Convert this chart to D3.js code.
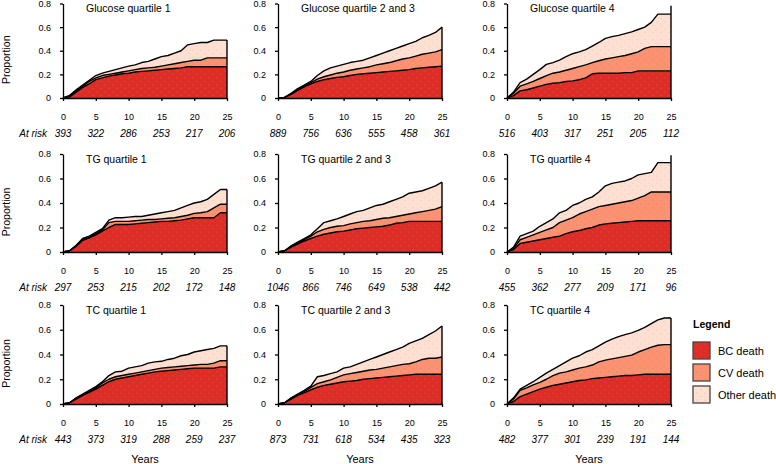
<!DOCTYPE html>
<html><head><meta charset="utf-8">
<script src="https://cdn.jsdelivr.net/npm/d3@7"></script>
<style>body{margin:0;background:#fff}svg{display:block;font-family:"Liberation Sans",Arial,Helvetica,sans-serif}</style>
</head><body><svg id="c" width="776" height="464"></svg>
<script>
// ---------- data ----------
const years = [0,1,2,3,4,5,6,7,8,9,10,11,12,13,14,15,16,17,18,19,20,21,22,23,24,25];
const panelTitles = ["Glucose quartile 1","Glucose quartile 2 and 3","Glucose quartile 4",
  "TG quartile 1","TG quartile 2 and 3","TG quartile 4",
  "TC quartile 1","TC quartile 2 and 3","TC quartile 4"];
const xTicks = [0,5,10,15,20,25];
const yTicks = [0,0.2,0.4,0.6,0.8];
const yTickLabels = ["0","0.2","0.4","0.6","0.8"];
const atRisk = [
  [393,322,286,253,217,206],[889,756,636,555,458,361],[516,403,317,251,205,112],
  [297,253,215,202,172,148],[1046,866,746,649,538,442],[455,362,277,209,171,96],
  [443,373,319,288,259,237],[873,731,618,534,435,323],[482,377,301,239,191,144]];
const causes = ["BC death","CV death","Other death"];
const causeColors = ["#de2d26","#fc9272","#fee0d2"];
// cumulative incidence: BC only
const bcCum = [
  [0,0.01,0.05,0.09,0.12,0.155,0.17,0.185,0.195,0.205,0.21,0.22,0.225,0.23,0.235,0.24,0.245,0.25,0.255,0.265,0.265,0.265,0.265,0.265,0.265,0.265],
  [0,0.005,0.03,0.065,0.095,0.12,0.14,0.155,0.165,0.175,0.18,0.19,0.2,0.205,0.21,0.215,0.22,0.225,0.23,0.235,0.24,0.25,0.255,0.26,0.265,0.27],
  [0,0.02,0.06,0.07,0.085,0.1,0.115,0.125,0.13,0.14,0.145,0.155,0.17,0.205,0.21,0.21,0.21,0.21,0.215,0.215,0.23,0.23,0.23,0.23,0.23,0.23],
  [0,0.01,0.045,0.095,0.115,0.14,0.17,0.2,0.225,0.225,0.225,0.23,0.235,0.24,0.245,0.25,0.25,0.255,0.26,0.27,0.28,0.28,0.28,0.28,0.32,0.32],
  [0,0.01,0.04,0.065,0.09,0.11,0.13,0.145,0.155,0.165,0.17,0.18,0.19,0.195,0.2,0.205,0.21,0.22,0.235,0.24,0.25,0.25,0.25,0.25,0.25,0.25],
  [0,0.02,0.07,0.08,0.09,0.1,0.11,0.12,0.13,0.15,0.165,0.175,0.19,0.2,0.22,0.23,0.235,0.24,0.245,0.25,0.255,0.255,0.255,0.255,0.255,0.255],
  [0,0.01,0.04,0.07,0.095,0.12,0.15,0.18,0.2,0.21,0.22,0.23,0.24,0.25,0.26,0.265,0.27,0.275,0.28,0.285,0.29,0.29,0.29,0.29,0.3,0.3],
  [0,0.01,0.04,0.07,0.09,0.115,0.135,0.15,0.16,0.17,0.18,0.185,0.19,0.2,0.205,0.21,0.215,0.22,0.225,0.23,0.235,0.24,0.24,0.24,0.24,0.24],
  [0,0.02,0.06,0.08,0.1,0.12,0.135,0.15,0.16,0.17,0.18,0.19,0.195,0.205,0.21,0.215,0.22,0.225,0.23,0.23,0.235,0.24,0.24,0.24,0.24,0.24]];
// cumulative incidence: BC + CV
const bcCvCum = [
  [0,0.02,0.06,0.1,0.14,0.17,0.19,0.2,0.21,0.22,0.23,0.24,0.25,0.255,0.26,0.27,0.28,0.29,0.3,0.31,0.32,0.32,0.34,0.34,0.34,0.34],
  [0,0.005,0.035,0.07,0.1,0.13,0.16,0.18,0.195,0.21,0.22,0.235,0.245,0.255,0.265,0.28,0.29,0.3,0.315,0.33,0.34,0.355,0.37,0.38,0.39,0.41],
  [0,0.04,0.1,0.12,0.14,0.165,0.19,0.21,0.22,0.235,0.25,0.265,0.28,0.3,0.315,0.33,0.34,0.35,0.36,0.375,0.39,0.42,0.435,0.435,0.435,0.435],
  [0,0.01,0.05,0.1,0.12,0.15,0.18,0.24,0.25,0.25,0.25,0.255,0.26,0.265,0.265,0.27,0.275,0.28,0.29,0.3,0.315,0.32,0.33,0.36,0.39,0.39],
  [0,0.01,0.045,0.075,0.1,0.13,0.165,0.185,0.2,0.21,0.215,0.23,0.24,0.25,0.255,0.265,0.275,0.28,0.29,0.3,0.31,0.32,0.33,0.34,0.35,0.37],
  [0,0.03,0.1,0.12,0.14,0.16,0.18,0.2,0.24,0.26,0.28,0.31,0.33,0.35,0.37,0.38,0.39,0.4,0.41,0.42,0.44,0.46,0.49,0.49,0.49,0.49],
  [0,0.01,0.045,0.075,0.1,0.13,0.17,0.2,0.22,0.23,0.24,0.25,0.26,0.27,0.28,0.29,0.295,0.3,0.305,0.31,0.315,0.32,0.32,0.33,0.35,0.35],
  [0,0.01,0.045,0.075,0.1,0.135,0.165,0.18,0.195,0.215,0.235,0.245,0.255,0.265,0.275,0.28,0.29,0.3,0.31,0.32,0.325,0.34,0.36,0.37,0.37,0.38],
  [0,0.04,0.11,0.13,0.155,0.175,0.2,0.23,0.25,0.26,0.275,0.29,0.3,0.315,0.34,0.355,0.365,0.375,0.385,0.395,0.42,0.44,0.46,0.475,0.48,0.48]];
// cumulative incidence: all causes
const allCum = [
  [0,0.02,0.07,0.11,0.15,0.19,0.21,0.225,0.24,0.255,0.27,0.28,0.3,0.31,0.33,0.35,0.36,0.38,0.4,0.45,0.46,0.47,0.47,0.49,0.49,0.49],
  [0,0.005,0.04,0.08,0.11,0.14,0.19,0.23,0.255,0.27,0.285,0.3,0.31,0.32,0.34,0.36,0.38,0.4,0.42,0.44,0.46,0.48,0.51,0.53,0.555,0.6],
  [0,0.05,0.13,0.16,0.2,0.24,0.285,0.3,0.32,0.35,0.375,0.39,0.41,0.44,0.47,0.505,0.52,0.53,0.545,0.56,0.58,0.6,0.64,0.71,0.71,0.71],
  [0,0.01,0.055,0.11,0.13,0.16,0.19,0.26,0.28,0.28,0.285,0.29,0.29,0.3,0.31,0.32,0.33,0.34,0.36,0.38,0.4,0.41,0.43,0.47,0.51,0.51],
  [0,0.01,0.05,0.08,0.11,0.14,0.19,0.24,0.255,0.27,0.29,0.31,0.33,0.34,0.36,0.38,0.39,0.41,0.43,0.45,0.48,0.49,0.5,0.52,0.54,0.57],
  [0,0.04,0.13,0.15,0.17,0.21,0.24,0.27,0.32,0.34,0.38,0.4,0.43,0.45,0.49,0.54,0.56,0.57,0.58,0.6,0.63,0.64,0.65,0.73,0.73,0.73],
  [0,0.01,0.05,0.08,0.11,0.14,0.18,0.23,0.26,0.265,0.29,0.3,0.31,0.33,0.34,0.345,0.36,0.37,0.39,0.4,0.42,0.43,0.44,0.45,0.47,0.47],
  [0,0.01,0.05,0.08,0.11,0.145,0.22,0.23,0.245,0.26,0.29,0.3,0.32,0.34,0.36,0.38,0.4,0.42,0.44,0.46,0.49,0.51,0.53,0.56,0.59,0.63],
  [0,0.05,0.12,0.15,0.18,0.215,0.25,0.28,0.31,0.34,0.37,0.39,0.42,0.44,0.47,0.5,0.525,0.545,0.56,0.575,0.595,0.62,0.65,0.68,0.695,0.695]];
// value reached by the all-cause curve in its final jump at year 25
const endTop = [0.49,0.6,0.78,0.51,0.57,0.79,0.47,0.63,0.695];

// ---------- layout ----------
const colX = [63, 278, 507];
const plotW = 164;
const rowTop = [3.5, 154, 305];
const rowBot = [98, 252, 404];
const FONT = '"Liberation Sans",Arial,Helvetica,sans-serif';

const svg = d3.select("#c");
const defs = svg.append("defs");
const pat = defs.append("pattern").attr("id","stip").attr("patternUnits","userSpaceOnUse")
  .attr("width",8).attr("height",7);
pat.append("circle").attr("cx",1).attr("cy",1).attr("r",0.5).attr("fill","#9a9070");
pat.append("circle").attr("cx",5).attr("cy",4.5).attr("r",0.5).attr("fill","#9a9070");

panelTitles.forEach((title, i) => {
  const r = Math.floor(i/3), c = i % 3;
  const x = d3.scaleLinear().domain([0,25]).range([colX[c], colX[c]+plotW]);
  const y = d3.scaleLinear().domain([0,0.8]).range([rowBot[r], rowTop[r]]);
  const g = svg.append("g");
  const zero = years.map(() => 0);
  const bounds = [zero, bcCum[i], bcCvCum[i], allCum[i]];

  // bands
  for (let k = 0; k < 3; k++) {
    const lo = bounds[k], hi = bounds[k+1];
    const area = d3.area().x((d,j)=>x(years[j])).y0((d,j)=>y(lo[j])).y1((d,j)=>y(hi[j]));
    g.append("path").attr("d", area(years)).attr("fill", causeColors[k]);
    g.append("path").attr("d", area(years)).attr("fill", "url(#stip)").attr("opacity", k===2?0.35:0.75);
  }
  // boundary lines
  const line = d3.line().x(d=>x(d[0])).y(d=>y(d[1]));
  for (let k = 1; k <= 3; k++) {
    const pts = years.map((t,j)=>[t, bounds[k][j]]);
    g.append("path").attr("d", line(pts)).attr("fill","none").attr("stroke","#000")
      .attr("stroke-width",1.4).attr("stroke-linejoin","round");
  }
  // right edge
  g.append("path").attr("d", line([[25,0],[25,endTop[i]]])).attr("stroke","#000").attr("stroke-width",1.4);

  // axes
  const ya = d3.axisLeft(y).tickValues(yTicks).tickFormat((d,j)=>yTickLabels[j]).tickSize(3).tickSizeOuter(0).tickPadding(9);
  const yg = g.append("g").attr("transform",`translate(${colX[c]},0)`).call(ya);
  const xa = d3.axisBottom(x).tickValues(xTicks).tickSize(3).tickSizeOuter(0).tickPadding(13);
  const xg = g.append("g").attr("transform",`translate(0,${rowBot[r]})`).call(xa);
  [yg,xg].forEach(a=>{
    a.selectAll("path,line").attr("stroke","#000").attr("stroke-width",1.3);
    a.selectAll("text").attr("font-family",FONT).attr("font-size",9).attr("fill","#000");
  });

  // title
  g.append("text").attr("x", colX[c]+23).attr("y", rowTop[r]+8.5).attr("font-size",10.5)
    .attr("font-family",FONT).text(title);

  // at risk
  atRisk[i].forEach((n,j)=>{
    g.append("text").attr("x", x(xTicks[j])).attr("y", rowBot[r]+35).attr("dominant-baseline","central")
      .attr("text-anchor","middle").attr("font-style","italic").attr("font-size",10).attr("font-family",FONT).text(n);
  });
  if (c === 0) {
    g.append("text").attr("x", 47).attr("y", rowBot[r]+35).attr("dominant-baseline","central")
      .attr("text-anchor","end").attr("font-style","italic").attr("font-size",10).attr("font-family",FONT).text("At risk");
    g.append("text").attr("transform",`translate(6,${(rowTop[r]+rowBot[r])/2+9}) rotate(-90)`)
      .attr("text-anchor","middle").attr("dominant-baseline","central").attr("font-size",10.5)
      .attr("font-family",FONT).text("Proportion");
  }
  if (r === 2) {
    g.append("text").attr("x", colX[c]+plotW/2).attr("y", 459).attr("dominant-baseline","central")
      .attr("text-anchor","middle").attr("font-size",11).attr("font-family",FONT).text("Years");
  }
});

// legend
const lg = svg.append("g");
lg.append("text").attr("x",693).attr("y",324).attr("dominant-baseline","central").attr("font-weight","bold")
  .attr("font-size",10.5).attr("font-family",FONT).text("Legend");
causes.forEach((name,k)=>{
  const yy = 342 + k*22;
  lg.append("rect").attr("x",693).attr("y",yy).attr("width",17).attr("height",17)
    .attr("fill",causeColors[k]).attr("stroke","#444").attr("stroke-width",1.3);
  lg.append("rect").attr("x",693).attr("y",yy).attr("width",17).attr("height",17)
    .attr("fill","url(#stip)").attr("opacity",0.6);
  lg.append("text").attr("x",718).attr("y",yy+8.5).attr("dominant-baseline","central")
    .attr("font-size",11).attr("font-family",FONT).text(name);
});
</script></body></html>
